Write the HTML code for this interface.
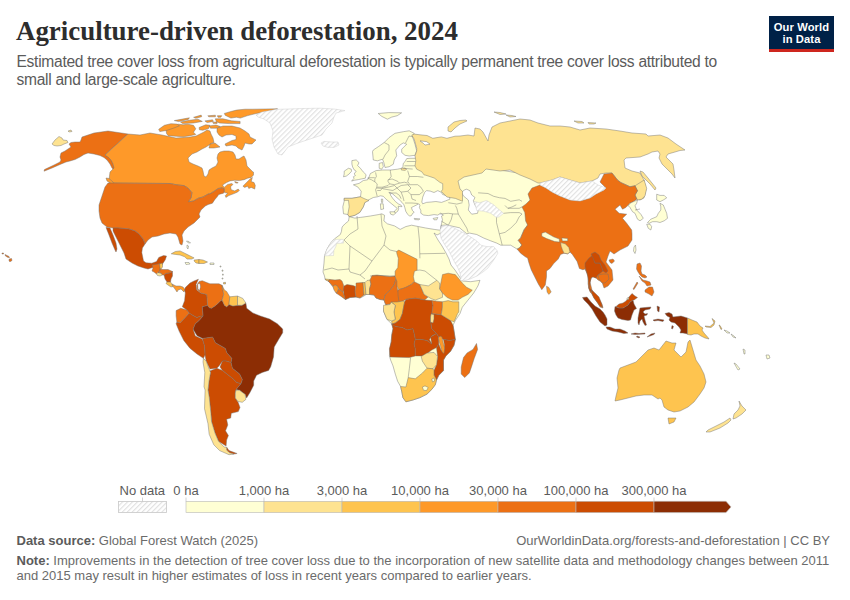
<!DOCTYPE html>
<html><head><meta charset="utf-8">
<style>
html,body{margin:0;padding:0;background:#fff;}
body{width:850px;height:600px;position:relative;overflow:hidden;font-family:"Liberation Sans",sans-serif;}
.t{position:absolute;white-space:nowrap;}
#title{left:16px;top:14.2px;font-family:"Liberation Serif",serif;font-weight:bold;font-size:26.9px;color:#2d2d2d;line-height:34px;}
.sub{left:16.5px;font-size:15.6px;letter-spacing:-0.29px;color:#5b5b5b;line-height:18px;}
.foot{font-size:13px;color:#6b6b6b;line-height:15px;}
.foot b{color:#5b5b5b;}
#logo{position:absolute;left:769px;top:16px;width:65px;height:36px;background:#002147;}
#logo .red{position:absolute;left:0;bottom:0;width:65px;height:3px;background:#ce261e;}
#logo .lt{position:absolute;left:0;width:65px;text-align:center;color:#fff;font-weight:bold;font-size:11.2px;letter-spacing:0.1px;line-height:12px;}
.lg{font-size:12.5px;color:#5b5b5b;}
svg{position:absolute;left:0;top:0;}
</style></head><body>
<div id="title" class="t">Agriculture-driven deforestation, 2024</div>
<div class="t sub" style="top:53px">Estimated tree cover loss from agricultural deforestation is typically permanent tree cover loss attributed to</div>
<div class="t sub" style="top:71px">small and large-scale agriculture.</div>
<div id="logo"><div class="lt" style="top:5px">Our World</div><div class="lt" style="top:17px">in Data</div><div class="red"></div></div>

<svg width="850" height="600" viewBox="0 0 850 600">
<defs>
<pattern id="hatch" patternUnits="userSpaceOnUse" width="3.5" height="3.5" patternTransform="rotate(45)">
<rect width="3.5" height="3.5" fill="#fff"/><line x1="0.6" y1="0" x2="0.6" y2="3.5" stroke="#e0e0e0" stroke-width="1.1"/>
</pattern>
</defs>
<g id="map" stroke="#707070" stroke-width="0.45" stroke-linejoin="round">
<path d="M52 144 L55 140 L59 136.5 L62 138 L63 140 L67 140.5 L68 142.5 L64 144 L61 145.5 L57 146 L54 145.5Z" fill="#fee391"/>
<path d="M68 131 L71 130 L72 131.5 L69 132Z" fill="#fee391"/>
<path d="M82 137 L94 133 L108 131 L128 134 L105 155 L109 157 L112 161 L114 166 L114 170 L112 168 L110 164 L107 160 L104 157.5 L100 155.5 L94 154 L88 153 L84 154.5 L80 157 L75 159.5 L70 161 L66 162 L60 164.5 L52 168 L44 171.2 L44.5 169.5 L53 165.5 L60 162 L61 160 L60 157 L61 153 L65 151 L68 149 L71 147 L70 145.5 L69 144 L71 142.5 L75 142 L80 142 L81 140Z" fill="#ec7014"/>
<path d="M128 134 L140 135 L150 133 L156 134 L162 135 L169 136.5 L176 138 L184 137.5 L190 137 L196 136 L200 134 L204 132 L207 130 L210 131 L211 134 L213 138 L214 142.5 L212 143 L209 145 L206 147 L202 149 L197 152 L192 154 L188 158 L189 162 L193 164 L198 166 L202 168 L203 171 L204 176 L206 177 L208 174 L209 170 L212 168 L216 166 L218 162 L217 158 L218 154 L220 152 L224 151 L229 151 L233 152 L235 155 L236 159 L239 159 L242 157 L244 156 L246 160 L247 166 L250 169 L253 172 L253.5 172.1 L253.5 175 L251.2 177.4 L247.6 178.2 L244.1 179.7 L239.4 180.6 L234.7 180.3 L230 180.9 L226.5 182.6 L222.5 185 L224.1 187.4 L227.6 184.4 L231.8 183.5 L232.9 184.4 L230.6 186.8 L231.2 189.7 L234.7 190.9 L238.2 189.1 L239.4 190.3 L237.6 192.1 L233.5 193.8 L228.8 195.6 L225.9 197.4 L225.3 195.6 L227.6 193.2 L224.7 192.6 L224.1 192.1 L224.1 188.5 L221.8 187.9 L218.2 188.5 L213.8 191.5 L210 193.8 L208.1 194.1 L203.2 196.9 L198.2 198.3 L193.3 201.1 L188.4 201.8 L191.2 197.6 L191.9 192.6 L188.4 188.4 L184.1 185.6 L177 184.9 L170 183.5 L110 183 L109 180 L110 172 L114 168 L113 164 L111 160 L108 157 L105 155Z" fill="#fe9929"/>
<path d="M106 178 L109 178.5 L113 182 L114 184 L111 183.5 L107 181Z" fill="#fe9929"/>
<path d="M242.9 186.2 L246.5 182.6 L250 179.1 L252.4 177.4 L251.2 181.5 L254.1 182.6 L255.3 185.6 L254.7 189.1 L253.5 188.5 L251.2 187.4 L248.8 188.5 L247.6 186.2 L244.7 187.4Z" fill="#fe9929"/>
<path d="M234.7 181.5 L238.2 182.6 L237.1 183.2 L235 182.6Z" fill="#fe9929"/>
<path d="M217 128 L223 126 L232 126 L240 128 L245 131 L249 134 L250 137 L256 140 L252 144 L249 144 L245 143 L244 146 L242 150 L238 148 L236 146 L232 145 L226 146 L225 144 L228 142.5 L232 140.5 L236 139.5 L236 136 L232 134.5 L226 135 L222 137 L219 135 L217 132Z" fill="#fe9929"/>
<path d="M210 144 L215 143 L220 147 L214 148 L209 148Z" fill="#fe9929"/>
<path d="M165.9 128.8 L171.6 125.9 L178.5 124.2 L183.1 124.8 L187.7 124.2 L193.5 125.3 L195.8 128.8 L193.5 132.2 L195.8 134.5 L190 135.7 L183.1 136.8 L176.2 136.3 L168.2 135.7 L166.5 133.4Z" fill="#fe9929"/>
<path d="M158.7 129.3 L164.4 125.3 L170.9 123.7 L177.1 124.1 L179.4 125.8 L173.6 128.1 L166.7 130.4 L159.8 131.6Z" fill="#fe9929"/>
<path d="M174.3 120.6 L189.4 117.8 L188.3 119.4 L178.6 121.6Z" fill="#fe9929"/>
<path d="M180.5 122 L189.3 120.3 L197.9 119.2 L202.3 121.4 L193.5 123 L182.7 123.6Z" fill="#fe9929"/>
<path d="M193.6 117.3 L201.2 115.1 L201.7 116.7 L195.8 118.3Z" fill="#fe9929"/>
<path d="M204.9 120.9 L212.5 119.8 L213.5 121.4 L207.1 122.6Z" fill="#fe9929"/>
<path d="M207.8 115.8 L215.4 115.2 L215.4 116.8 L208.8 116.8Z" fill="#fe9929"/>
<path d="M217.4 115.7 L221.8 115.7 L220.7 117.3 L218 117.3Z" fill="#fe9929"/>
<path d="M212.7 122.4 L217.1 121.8 L217.1 123.4 L213.3 123.4Z" fill="#fe9929"/>
<path d="M215.3 118.8 L222.9 118.8 L231.5 120.8 L240.1 121.4 L240.1 123.6 L229.3 123.6 L219.5 123 L216.3 121.4Z" fill="#fe9929"/>
<path d="M199.1 127.5 L205.7 124.8 L209.9 125.3 L208.6 128.6 L202.8 130.3 L199.4 129.8Z" fill="#fe9929"/>
<path d="M209.3 125.9 L216 125 L220.4 126.6 L216.2 128.2 L210.5 128.2Z" fill="#fe9929"/>
<path d="M224.3 113.4 L230.9 111.5 L236.5 110.1 L245 109.2 L252 109.2 L277.6 108.8 L267.6 111.3 L256.3 113.5 L247.8 115.6 L240.3 118.1 L236.5 117.2 L230.9 118.1 L227.1 116.2 L225.2 115.3Z" fill="#fe9929"/>
<path d="M256 115 L262 112 L276 109.4 L300 108.6 L320 108.2 L334 109 L345 110.6 L336 113 L334 117 L332 123 L326 129 L322 135 L310 139 L298 143 L288 147 L282 155 L278 154 L274 147 L272 139 L273 131 L270 123 L264 119 L258 117Z" fill="url(#hatch)" stroke="#ccc"/>
<path d="M321 143 L324 141.4 L332 142 L338 142 L339 145 L334 147.4 L328 147.4 L323 146Z" fill="url(#hatch)" stroke="#ccc"/>
<path d="M110 183 L170 183.5 L177 184.9 L184.1 185.6 L188.4 188.4 L191.9 192.6 L191.2 197.6 L188.4 201.8 L193.3 201.1 L198.2 198.3 L203.2 196.9 L208.1 194.1 L210 193.8 L213.8 191.5 L218.2 188.5 L221.8 187.9 L224.1 188.5 L224.1 192.1 L223.5 193.2 L218.8 194.4 L216.6 197.6 L214.7 199.7 L212.4 203.2 L208.1 204.6 L205.3 206 L201 210 L199 214 L200 217 L194 223 L188 227 L184 231 L182 235 L183 241 L182 245 L180 244 L178 237 L176 234 L170 233 L164 234 L158 236 L152 237 L148 240 L145 244 L143 239 L139 234 L135 231 L129 229 L125 228.6 L118 228 L113 228 L107 227 L102 223 L100 218 L99 211 L99 205 L101 199 L103 193 L105 187 L108 183Z" fill="#ec7014"/>
<path d="M113 228 L118 228 L125 228.6 L129 229 L135 231 L139 234 L143 239 L145 244 L142.4 248 L141.8 252.6 L143.5 260.9 L146 262.8 L151.8 263.2 L156.5 261.5 L158.8 257.4 L163.5 255.6 L166.5 256 L165.3 259.7 L163 263.2 L161.8 265.6 L156 265 L154 267 L151 268 L148 269 L144 268 L138 266 L132 263 L126 259 L124 253 L120 245 L116 237 L113 231Z" fill="#cc4c02"/>
<path d="M106 227.4 L110 228 L113 235 L116 243 L117 249 L116 252 L115 250 L112 243 L109 235Z" fill="#cc4c02"/>
<path d="M9.2 259 L11.5 258.5 L12 260.5 L10 261.8 L9 261Z" fill="#ec7014"/>
<path d="M5 254.5 L7 255.5 L9 256.5 L9.5 257.5 L8 257.5 L5.5 256Z" fill="#ec7014"/>
<path d="M2 253 L3.5 253 L3.5 254 L2 254Z" fill="#ec7014"/>
<path d="M152 265 L155 264.5 L158 264 L160 263.5 L160.5 268 L160 269 L160 271 L158 272.5 L156.5 274 L154 272 L152 271 L153 268Z" fill="#ec7014"/>
<path d="M159.5 264 L162.5 263 L162.5 267 L161 269 L160.2 269Z" fill="#fec44f"/>
<path d="M156.5 274 L158 272.5 L161 273 L162.5 275 L160 276 L157.5 275.5Z" fill="#fee391"/>
<path d="M160 269 L163 269.5 L168 269.5 L172.5 271.5 L170 273 L166 273.5 L164 275 L162.5 275 L161 273 L158 272.5 L160 271Z" fill="#ec7014"/>
<path d="M164 275 L166 273.5 L170 273 L172.5 271.5 L172.5 276 L171 279 L170.5 282 L167 282 L165 279Z" fill="#cc4c02"/>
<path d="M167 282 L170.5 282 L172 284 L173 286.5 L171 287 L168 285 L166 283.5Z" fill="#fec44f"/>
<path d="M172 284 L176 286 L180 286 L183 287 L185 289.5 L184 292 L181 289 L178 290 L177 292 L175 289 L173 286.5Z" fill="#fe9929"/>
<path d="M171.2 253.8 L175.3 251.5 L180 250.9 L184.7 253.2 L189.4 255.6 L194.1 257.9 L191.8 259.1 L187.1 259.1 L184.7 256.8 L180 255 L175.3 254.4Z" fill="#fec44f"/>
<path d="M194 260 L199 259.5 L199 263.5 L196 263 L194.5 261.5Z" fill="#fec44f"/>
<path d="M199 259.5 L203 260 L207.5 262 L204 263.5 L199 263.5Z" fill="#fec44f"/>
<path d="M185 262.5 L189 262.5 L190 264 L186 264.5Z" fill="#ffffd4"/>
<path d="M210 263 L214 263 L214 264.5 L210 264.5Z" fill="#ffffd4"/>
<path d="M187 245 L188.5 246 L188 249 L187 248Z" fill="#ffffd4"/>
<path d="M186.5 241 L189 241.5 L190.5 243 L188 242.8Z" fill="#ffffd4"/>
<path d="M220 266 L221 266 L221 267 L220 267Z" fill="#ffffd4"/>
<path d="M222 270 L223 270 L223 271.2 L222 271.2Z" fill="#ffffd4"/>
<path d="M222.5 274 L223.3 274 L223.3 275.2 L222.5 275.2Z" fill="#ffffd4"/>
<path d="M222 278 L223 278 L223 279 L222 279Z" fill="#ffffd4"/>
<path d="M223.5 282.5 L225.5 282.3 L225.5 284 L223.5 284Z" fill="#fec44f"/>
<path d="M245.9 303 L246.7 308.3 L252.8 312.9 L260.4 316 L269.6 319 L277.3 323.7 L282.7 329 L282.7 332.8 L279.2 338.5 L274.2 347 L273.5 356.9 L270.7 366.8 L268.6 370.4 L262.2 372.5 L256.5 375.3 L253.7 381 L253.7 385.3 L250.1 392.3 L246.6 398 L245.2 394.5 L239.5 390.2 L236 389.5 L240.9 383.8 L242.3 379.6 L239.5 373.9 L232.4 368.3 L231 362.6 L231.7 358.3 L226.8 352.7 L225.3 348.4 L215.4 342.8 L212.6 337.1 L202.7 338.5 L197 335.7 L193 329 L195.3 323.7 L199 320.6 L203 316 L202.2 306.8 L207.6 305.3 L209.1 307.6 L211.4 308.3 L216 305.3 L220.6 300.7 L222.1 299.9 L224.4 305.3 L226.7 306.8 L229 304.5 L232.9 306 L237.5 305.3 L242 305.3Z" fill="#8c2d04"/>
<path d="M202.7 338.5 L212.6 337.1 L215.4 342.8 L225.3 348.4 L226.8 352.7 L231.7 358.3 L231 362.6 L226 361 L222.5 361 L219 366 L216.8 368.3 L210 369 L206.2 361.2 L205 355 L204.5 346 L203 341Z" fill="#cc4c02"/>
<path d="M222.5 361 L226 361 L231 362.6 L232.4 368.3 L239.5 373.9 L242.3 379.6 L240.9 383.8 L236.7 382.4 L232.4 378.2 L226.8 373.9 L222.5 370.4 L220 367Z" fill="#cc4c02"/>
<path d="M209.8 371 L216.8 368.3 L222.5 370.4 L226.8 373.9 L232.4 378.2 L236.7 382.4 L240.9 383.8 L236 389.5 L235.3 393 L235.3 398 L238.1 402.3 L240 407.5 L238.3 411.6 L231.3 413.3 L230.7 418 L226.6 419.2 L227.8 425 L225.5 430.8 L228.4 435.5 L226.6 440.1 L226.1 446 L218.5 441.3 L215 433.1 L211.5 421.5 L210.9 413.3 L209.2 397 L208 390 L209 381 L210.5 372.5Z" fill="#cc4c02"/>
<path d="M226.6 447.1 L229 450.6 L237.1 453.5 L233.6 454.1 L229 452.5 L226.6 450Z" fill="#cc4c02"/>
<path d="M203.4 358.3 L206.2 361.2 L208.3 366.8 L210.5 372.5 L209 381 L208 390 L209.2 397 L210.9 413.3 L211.5 421.5 L215 433.1 L218.5 441.3 L224.3 447.1 L226.6 447.1 L226.6 450 L229 452.5 L233.6 454.1 L229 454.7 L219.6 450.6 L213.8 444.8 L209.2 434.3 L208 423.8 L204.5 408.7 L205.1 390 L204 386.7 L204.8 372.5 L203 362Z" fill="#fee391"/>
<path d="M176.9 322.1 L180 322.9 L183.8 319 L189.2 312.9 L191.5 314.5 L196.8 317.5 L200.7 316 L203 316 L199 320.6 L195.3 323.7 L193 329 L195.3 336 L202.2 339 L203 341 L204.5 346 L205 355 L203.4 358.3 L197 354 L189.9 348.2 L183.8 340.5 L179.2 331.3 L176.1 323.7Z" fill="#cc4c02"/>
<path d="M176.1 310.6 L180.7 308.3 L186.9 309.9 L189.2 312.9 L183.8 319 L180 322.9 L176.9 322.1 L176.1 316Z" fill="#ec7014"/>
<path d="M198.4 279.2 L196 284.6 L196.8 290 L200.7 293 L206.8 294.5 L207.6 305.3 L202.2 306.8 L203 316 L200.7 316 L196.8 317.5 L191.5 314.5 L189.2 312.9 L186.9 309.9 L182.3 306.8 L184.6 300.7 L185.3 293 L184.6 290 L185.3 287.6 L190 283 L194 281Z" fill="#cc4c02"/>
<path d="M196.8 285.3 L199.1 281.5 L202.2 280.7 L209.9 283.8 L219 283.8 L222.1 285.3 L223.7 294.5 L222.1 299.9 L220.6 300.7 L216 305.3 L211.4 308.3 L209.1 307.6 L207.6 305.3 L206.8 294.5 L200.7 293 L197.6 290Z" fill="#ec7014"/>
<path d="M222.1 285.3 L224.4 290 L226.7 291.5 L229.8 296.8 L229 304.5 L226.7 306.8 L224.4 305.3 L222.1 299.9 L223.7 294.5Z" fill="#fe9929"/>
<path d="M229.8 296.8 L237.5 296 L237.5 305.3 L232.9 306 L229 304.5Z" fill="#fec44f"/>
<path d="M237.5 296 L242.8 298.4 L245.9 303 L242 305.3 L237.5 305.3Z" fill="#fee391"/>
<path d="M197.5 284 L200 283.5 L200.5 287 L199.5 290.5 L198 289 L197.8 286Z" fill="#fff"/>
<path d="M236 390.2 L239.5 390.2 L245.2 394.5 L245.9 399.4 L242.3 402.3 L238.1 401.5 L235.3 398 L235.3 393Z" fill="#fee391"/>
<path d="M344.2 198.3 L352 198.3 L360.5 196.8 L361.2 191.2 L357.7 186.9 L353.4 184.8 L359.1 183.4 L363.3 180.5 L367.6 179.8 L369 177 L370.4 173.5 L376.1 170.6 L382.5 170 L390.8 170 L397.5 169.2 L401.7 168.3 L402.9 166.7 L403.3 163.3 L405 161.7 L406.7 158.6 L410 158.3 L415.5 158.3 L420 150 L460 165 L500 170 L530 175 L545 185 L540 200 L530 210 L528 222 L527.6 225 L524.1 229.7 L520.6 237.9 L518.2 240.3 L521.8 245 L519.4 247.9 L517.1 249.1 L510.7 245.2 L500.8 245.2 L496.5 243 L490.8 240.9 L483.8 238.1 L476.7 234.5 L469.6 233.1 L466.8 233.8 L459.5 227.8 L446.8 225 L441.3 225.3 L440.5 229 L441.5 223.6 L442.5 219.8 L441.5 216.1 L443.4 215.1 L440.6 213.2 L437.8 215.1 L434 214.6 L428.4 215.6 L423.6 215.1 L420.8 213.2 L420.8 210.4 L419.4 207.6 L419.9 205.2 L418.9 203.8 L416.1 205.2 L413.3 206.6 L411.4 207.6 L412.4 210.4 L414.2 212.3 L412.8 213.2 L411.4 215.6 L409.5 216.1 L407.6 214.2 L405.8 211.4 L404.8 207.6 L403.9 204.8 L402 202.4 L399.2 199.6 L395.4 196.3 L392.6 193.9 L389.8 192.5 L388.8 192.5 L390.2 193.5 L390.7 195.4 L392.6 198.2 L395.4 201.5 L398.2 203.8 L401.1 205.2 L402 206.6 L400.1 206.6 L398.2 206.2 L398.7 208.5 L398 210.9 L396.4 212.3 L394.5 213.5 L394.5 211 L397.3 208.5 L394.5 206.2 L391.6 203.8 L388.8 201.5 L386 199.1 L383.2 196.3 L380.4 195.8 L377.5 196.8 L373.3 197.5 L369 199.7 L364.8 202.5 L363.3 206.8 L359.8 212.4 L354.8 215.3 L349.2 216.7 L347.8 214.5 L343.5 213.8 L342.8 206.8 L344.2 201.1Z" fill="#ffffd4"/>
<path d="M344.2 198.3 L352 198.3 L360.5 196.8 L364 198.5 L369 200.5 L364.8 202.5 L363.3 206.8 L359.8 212.4 L354.8 215.3 L349.2 216.7 L347.8 214.5 L349.2 206.8 L348.5 200.4 L344.2 200.4Z" fill="#fee391"/>
<path d="M389.8 211.8 L394.5 211.8 L395.4 213.2 L393.5 215.1 L390.7 214.2Z" fill="#ffffd4"/>
<path d="M380.4 203.8 L383.2 203.8 L383.6 209 L380.8 209.5Z" fill="#ffffd4"/>
<path d="M381.3 199.1 L382.7 199.1 L382.7 202.4 L381.5 202.4Z" fill="#ffffd4"/>
<path d="M414.2 218.4 L419.9 218.9 L418.9 219.8 L414.7 219.6Z" fill="#ffffd4"/>
<path d="M433.1 218.4 L437.8 217.5 L436.8 219.8 L434 219.8Z" fill="#ffffd4"/>
<path d="M372.5 151.7 L373.3 160 L377.5 160.8 L382.5 159.2 L383.8 162.5 L385 167.5 L389.2 166.7 L393.3 164.2 L394.2 160 L396.7 155.8 L395.8 150 L400 145 L403.3 142.9 L406.7 144.2 L401.7 149.2 L401.7 152.5 L405 155.3 L409.2 156 L415 155.3 L416.7 150.8 L415 144.2 L412.5 136.7 L414.2 133.3 L409.2 130.8 L403.3 131.7 L395 133.3 L389.2 137.5 L384.2 142.5 L378.3 146.7 L373.3 150Z" fill="#ffffd4"/>
<path d="M379.2 163.3 L382.5 162.5 L383.3 166.7 L381.7 169.2 L379.2 168.3Z" fill="#ffffd4"/>
<path d="M351.9 160.6 L356.2 159.9 L359 162.7 L357.6 165.5 L360.4 168.3 L363.2 171.9 L366.1 174.7 L365.3 178.2 L361.8 178.9 L358.3 179.6 L354.1 180.3 L351.6 181.1 L354.1 178.2 L353.3 176.8 L355.5 175.4 L354.1 174 L356.2 171.2 L354.1 169.8 L352.6 166.9 L351.9 164.1Z" fill="#ffffd4"/>
<path d="M344.2 171.2 L348.4 168.3 L351.2 169.1 L351.6 171.2 L349.1 174 L346.3 176.1 L343.5 176.8 L344.2 174Z" fill="#ffffd4"/>
<path d="M378.2 113.5 L388.8 112.6 L401.6 112.8 L397.3 115.7 L391.7 117.1 L387.4 119.2 L381.8 116.4Z" fill="#ffffd4"/>
<path d="M421.8 202 L422.7 197.2 L424.6 192.5 L426.5 190.6 L430.2 191.1 L434 192.5 L436 191.5 L437.8 190.6 L441.5 192.5 L442.5 194.4 L445.3 195.4 L449.1 196.3 L450 199.1 L445.3 201 L441.5 202.4 L435.9 201.5 L431.2 202 L426.5 202.4 L422.7 203.8Z" fill="#fff"/>
<path d="M464.2 190 L461.7 192.5 L463.3 195.8 L468.3 200 L469.2 205 L468.3 210 L471.7 214.2 L477.5 213.3 L478.3 210 L475 205 L473.3 200.8 L475 197.5 L471.7 195 L470 190.8 L466.7 189.2Z" fill="#fff"/>
<path d="M473.8 201.3 L479.5 202.7 L486.6 200.5 L493.7 204.8 L499.3 209.8 L503.6 213.3 L499.3 216.8 L496.5 217.5 L490.8 213.3 L483.8 211.2 L476.7 210.5 L475.5 206Z" fill="url(#hatch)" stroke="#ccc"/>
<path d="M414.3 134.1 L420 134.8 L427.1 135.5 L432.8 138.3 L437 137.6 L441.3 136.9 L446.9 138.3 L455 136.2 L460 136 L468 135 L474 136 L475 128 L480 129 L483 132 L488 141 L489 135 L492 127 L500 123 L510 121 L520 119 L530 120 L538 123 L550 126 L560 126 L570 127 L580 130 L590 128 L606 129 L620 131 L632 133 L646 134 L648 136 L660 135 L668 138 L676 144 L685 150 L680 150.5 L675 152 L668 154 L666 157 L669 160 L673 164 L674 170 L675 178 L672 174 L668 170 L662 164 L659 158 L660 154 L658 151 L652 152 L648 154 L640 157 L626 158 L624 160 L625 168 L632 171 L640 173 L644 180 L646 190 L644 198 L640 200 L636.7 199.2 L635 195 L637.5 190.8 L635 185.8 L630 186.7 L620.8 182.5 L617.5 180 L612 173 L606 173 L600 174 L598 178 L592 181 L580 183 L570 180 L560 177 L552 180 L540 183 L538 183 L530 179 L520 175 L510 170 L500 171 L486 169 L482 173 L464 177 L458 181 L460 189 L462.5 191.3 L462.5 201.3 L455.4 198.4 L446.9 197 L441.3 191.3 L442.7 189.3 L442.7 183.7 L439.8 182.3 L434.2 178 L425.7 175.2 L424.2 175 L421.7 171.7 L416.7 169.2 L415 165.8 L415.8 160.8 L415 155.8 L416.7 150.8 L416.7 148.3 L414.2 139.2 L411.7 135Z" fill="#fee391"/>
<path d="M420 140.8 L426.7 141.7 L430 144.2 L425 145 L423.3 143.3Z" fill="#fff"/>
<path d="M401.3 168.3 L405 168 L406.7 169.2 L405 170.4 L401.3 170Z" fill="#fee391"/>
<path d="M448 127 L454 122 L460 120.5 L466 120 L467 121 L460 124 L455 128 L451 132 L448 131Z" fill="#fee391"/>
<path d="M494 112 L500 112.5 L506 114 L500 114.5Z" fill="#fee391"/>
<path d="M506 115 L512 115.5 L516 116.5 L510 117Z" fill="#fee391"/>
<path d="M574 121 L582 121.5 L584 123 L578 123Z" fill="#fee391"/>
<path d="M588 122.5 L596 123 L594 124 L589 124Z" fill="#fee391"/>
<path d="M640 171 L643 172 L648 178 L652 183 L656 188 L655 190 L650 184 L645 179 L642 176Z" fill="#fee391"/>
<path d="M349.2 216.7 L354.8 218.1 L360.5 217.4 L370.4 216 L378.9 214.5 L381.8 213.8 L384.6 215.3 L383.9 220.9 L387.4 223.8 L394.5 225.9 L400.2 229.4 L405.8 226.6 L411.5 225.2 L418.6 226.6 L425.7 228 L434.2 229.4 L439.1 230.1 L441 230 L441 233 L437 235 L434 233 L438 240 L442 246 L446 253 L449 259 L451 265 L455 270 L459 276 L461 279 L462.5 281 L470.8 281.7 L480 280.3 L477.9 286 L473.7 293 L468 300.1 L462.3 307.2 L460 313.5 L455.3 320.6 L453 325.3 L454 331 L455.3 339.4 L454 345.3 L450.6 351.2 L445.9 355.9 L443.5 360 L443.5 370.6 L438.8 375.3 L436.5 380 L435.3 384.7 L431.8 389.4 L427 394.1 L420 397.6 L412.9 400 L405.9 401.8 L402.9 397.6 L401.8 391.8 L400.6 386.5 L397.6 381.2 L395.3 374.1 L393 365.9 L390.6 360 L389.4 355.9 L390 348.8 L391.2 341.8 L391.8 334.7 L393 328.8 L391.8 324 L387 319.4 L383.5 311.2 L384 308 L386 305 L385 303 L384 300 L380 299.5 L376 298 L374 295 L370 294.5 L366 294.5 L364 296 L360 298 L356 297 L350 297.5 L345.5 299.5 L340 295 L336 291 L333 287 L330 283 L328 281 L325 279 L324.5 276 L323 272 L324 263 L324.5 255.9 L326.8 249.5 L329.8 244.3 L332 241.3 L334.3 239 L340.3 234.5 L341.4 231.5 L342.1 227 L344.8 224 L348.5 221Z" fill="#ffffd4"/>
<path d="M334.3 239.4 L343.3 239.4 L343.6 243.1 L336.5 243.5 L335.8 246.5 L333.9 250.3 L333.5 255.5 L324.5 255.9 L326.8 249.5 L329.8 244.3 L332 241.3Z" fill="url(#hatch)" stroke="#ccc"/>
<path d="M325 279 L330 279.5 L330 281 L328 281 L325.5 280Z" fill="#fec44f"/>
<path d="M328 281 L330 279.5 L335 280 L340 279.5 L342 281 L343.5 285 L344 289.5 L343 292 L341 290.5 L339 289 L337.5 286.5 L335 285 L333 286.5 L330 283Z" fill="#ec7014"/>
<path d="M333 286.5 L335 285 L337.5 286 L338.5 289 L337.5 292 L336 293 L334 290Z" fill="#fe9929"/>
<path d="M336 293 L337.5 292 L338.5 289 L341 290.5 L343 292 L344 295 L345.5 299.5 L342 297 L339 295Z" fill="#ec7014"/>
<path d="M344 286 L347 284.5 L353 285.5 L355.5 286.5 L355 291 L356 297 L350 297.5 L345.5 299.5 L344 295 L343.5 290Z" fill="#cc4c02"/>
<path d="M356 283 L363 282.5 L363.5 288 L364 295 L360 298 L356 297 L355 291 L356 287Z" fill="#ec7014"/>
<path d="M363 282.5 L365 282.5 L365.5 289 L366 294.5 L364 295 L363.5 288Z" fill="#fec44f"/>
<path d="M365 282.5 L367 280.5 L370 280 L371 284 L369.5 289 L369.5 294.5 L366 294.5 L365.5 289Z" fill="#fee391"/>
<path d="M370 280 L372 275.5 L377 275 L384 276 L390 276.5 L395 276 L396 279 L394 285 L391 289 L388 292 L385 295 L384 300 L380 299.5 L376 298 L374 295 L369.5 294.5 L369.5 289 L371 284Z" fill="#ec7014"/>
<path d="M396 279 L398 281 L397 287 L398 291 L399 295 L400 302 L396 303 L390 304 L386 305 L385 303 L384 300 L385 295 L388 292 L391 289 L394 285Z" fill="#ec7014"/>
<path d="M396.5 251.5 L398.8 250.1 L417.1 259.3 L417.1 270.3 L414.4 271.2 L413.4 276.7 L414.4 281.3 L410.7 285 L407 286.8 L403.3 288.6 L398.8 289.5 L396.9 285.9 L396.9 281.3 L395.1 276.7 L395.1 271.2 L397.8 267.5 L398.3 258.3 L396.9 253.8Z" fill="#fe9929"/>
<path d="M398 290 L405.7 287.3 L411.3 284.5 L414.2 281.7 L419.8 284.5 L424.1 294.4 L428 297 L424.7 300 L415.3 298.2 L405.9 299.4 L403 301 L399 302 L398 295Z" fill="#ec7014"/>
<path d="M419.8 284.5 L428.3 285.9 L436.8 280.3 L439.7 283.1 L439.7 288.8 L442.5 293 L442.5 297.3 L435.4 300.1 L431.2 298.7 L424.1 294.4Z" fill="#fee391"/>
<path d="M442.5 274.6 L448.2 273.2 L455.3 274.6 L459.5 279.5 L462.3 283.1 L466.6 287.3 L472.3 290.2 L468 294.4 L462.3 297.3 L458.1 300.1 L452.4 300.1 L446.8 297.3 L442.5 293 L439.7 288.8 L441.1 281.7Z" fill="#fe9929"/>
<path d="M391 302 L397 302 L403 301 L404.7 301.8 L403.5 307.6 L402.4 313.5 L400 319.4 L395.3 323 L391.8 324 L391.8 321 L395.3 319.4 L394 312 L395.3 305.3Z" fill="#fec44f"/>
<path d="M383.5 305.3 L386 305 L390 304.5 L391 302 L395.3 305.3 L394 312 L395.3 319.4 L391.8 321 L387 319.4 L383.5 311.2Z" fill="#fee391"/>
<path d="M405.9 299.4 L415.3 298.2 L424.7 300 L431.8 300.6 L433 305.3 L431.8 313.5 L430.6 320.6 L431.8 328.8 L436.5 333.5 L431.8 335.9 L429.4 339.4 L431.8 344.1 L427 340.6 L421.2 339.4 L415.3 339.4 L414.1 333.5 L412.9 328.8 L407 330 L402.4 327.6 L395.3 326.5 L393 325.3 L391.8 324 L395.3 323 L400 319.4 L402.4 313.5 L403.5 307.6 L404.7 301.8Z" fill="#cc4c02"/>
<path d="M391.8 324 L395.3 326.5 L402.4 327.6 L407 330 L412.9 328.8 L414.1 333.5 L415.3 339.4 L414.1 344.1 L415.3 348.8 L415.3 355.9 L409.4 357.6 L390 357 L389.4 348.8 L391.2 341.8 L391.8 334.7 L393 328.8Z" fill="#cc4c02"/>
<path d="M415.3 339.4 L421.2 339.4 L427 340.6 L431.8 344.1 L430.6 337 L436.5 333.5 L438.8 337 L438.8 344 L436.5 347.6 L431.8 350 L427 353.5 L422.4 355.9 L415.3 355.9 L415.3 348.8 L414.1 344.1Z" fill="#cc4c02"/>
<path d="M431.8 313.5 L441.2 314.7 L450.6 320.6 L453 325.3 L454 331 L455.3 339.4 L449.4 340.6 L443.5 339.4 L438.8 337 L436.5 333.5 L431.8 328.8 L430.6 320.6Z" fill="#cc4c02"/>
<path d="M443.5 339.4 L449.4 340.6 L455.3 339.4 L454 345.3 L450.6 351.2 L445.9 355.9 L443.5 360 L443.5 370.6 L438.8 375.3 L436.5 380 L434 375.3 L434 370.6 L436.5 364.7 L437.6 356.5 L436.5 347.6 L438.8 344 L441 350 L443.5 352 L444.5 345Z" fill="#cc4c02"/>
<path d="M440 336 L442 337 L443 342 L444.7 348 L444 353.5 L442 352 L440.5 346 L439 341 L438.2 338Z" fill="#fe9929"/>
<path d="M431.8 300.6 L436.5 301.2 L442.4 301.8 L442.4 307.6 L441.2 314.7 L436.5 314.1 L431.8 313.5 L433 305.3Z" fill="#ec7014"/>
<path d="M442.4 301.8 L448.2 300.6 L452.9 301.8 L458.8 301.8 L458.8 312 L457.6 313.5 L454.1 321.8 L450.6 320.6 L441.2 314.7 L442.4 307.6Z" fill="#fec44f"/>
<path d="M431 314 L434 314.5 L434 319 L433 323 L430.5 322 L430.5 317Z" fill="#fee391"/>
<path d="M421.2 356.5 L427 353 L434 352.4 L437.6 356.5 L436.5 364.7 L433 368.8 L427 368.2 L422.4 361.2Z" fill="#fee391"/>
<path d="M408.2 377.6 L415.3 378.8 L422.4 373 L427 368.2 L433 368.8 L434 370.6 L434 375.3 L436.5 380 L435.3 384.7 L431.8 389.4 L427 394.1 L420 397.6 L412.9 400 L405.9 401.8 L402.9 397.6 L401.8 391.8 L400.6 386.5 L405.9 387Z" fill="#fec44f"/>
<path d="M422.4 387 L425 385.9 L428.2 387.5 L426.5 390.6 L423.5 390.2Z" fill="#ffffd4"/>
<path d="M431.8 379 L434 378 L434.7 381 L432.5 381.8Z" fill="#ffffd4"/>
<path d="M476.5 343.5 L477.6 349.4 L474.1 358.8 L471.8 365.9 L469.4 372.9 L464.7 377.6 L461.2 374.1 L461.2 367 L463.5 357.6 L467.1 352.9 L473 349.4Z" fill="#ec7014"/>
<path d="M441 227 L448 225 L456 229 L462 232 L468.2 235.3 L476.7 240.9 L480.9 245.2 L486.6 246.6 L493.7 246.6 L497.2 250.8 L497.8 253.3 L493.5 260.4 L490 265 L488 268 L483 272 L477 276 L470 279 L463 281 L460 280 L461 278 L460 273 L458 268 L455 263 L452 257 L449 251 L445 245 L441 238 L440 231Z" fill="url(#hatch)" stroke="#ccc"/>
<path d="M635 185.8 L644.2 180 L646.7 188.3 L645 195.8 L641.7 199.2 L637.5 200 L635 195 L637.5 190.8Z" fill="#fee391"/>
<path d="M532 188 L540 185 L546 188 L552 192 L560 196 L570 200 L580 201 L590 198 L596 194 L604 190 L606 188 L600 182 L604 174 L612 173 L617.5 180 L620.8 182.5 L630 186.7 L635 185.8 L637.5 190.8 L635 195 L636.7 199.2 L633.3 201.7 L630 203.3 L625.8 207.5 L622.5 209.2 L620 205 L615 209.2 L619.2 213.3 L626.7 214.2 L622.5 218.3 L626.7 223.3 L631.7 230 L632 234 L632 240 L628 246 L620 250 L614 254 L610 251 L608 256 L606 262 L612 270 L613 280 L608 286 L604 288 L602 282 L598 280 L596 278 L592 276 L590 282 L592 290 L595 294 L598 298 L602 304 L603 308 L600 307 L597 302 L594 298 L592 294 L590 292 L588 284 L588 276 L585 269 L582.9 269.7 L579.4 268.5 L577.1 261.5 L572.4 254.4 L570 252.1 L567.6 253.8 L564.1 253.2 L560.6 254.4 L558.2 259.1 L553.5 263.8 L550 268.5 L546.5 270.9 L546.5 276.8 L545.3 285 L541.8 289.7 L538.2 283.8 L534.7 276.8 L531.2 269.7 L528.8 262.6 L527.6 257.9 L525.3 256.8 L520.6 253.2 L517.1 249.1 L519.4 247.9 L521.8 245 L518.2 240.3 L520.6 237.9 L524.1 229.7 L527.6 225 L525.6 221 L524.8 212.6 L522 206.9 L526 204 L530 200 L528 194Z" fill="#ec7014"/>
<path d="M585 263 L589 258 L593 255 L595 263 L600 263 L602 268 L603 271 L598 275 L596 278 L593 277 L591 278 L590 283 L589.5 288 L591.5 290 L592 292 L590 291 L588.5 288 L589 283 L588 278 L587 273 L585 267Z" fill="#cc4c02"/>
<path d="M591 254 L595 252 L599 255 L601 260 L605 265 L608 271 L606 273 L603 271 L602 268 L600 263 L595 263 L593 258Z" fill="#cc4c02"/>
<path d="M598 275 L603 274 L608 274 L609 279 L605 283 L602 283 L599 279Z" fill="#ec7014"/>
<path d="M541.8 233.2 L545.3 232.1 L553.5 236.8 L559.4 239.1 L559.4 242.1 L554.7 241.5 L546.5 238.5 L541.8 236.2Z" fill="#ffffd4"/>
<path d="M561.8 237.9 L567.6 238.5 L567.6 240.9 L562.4 240.9Z" fill="#ffffd4"/>
<path d="M560.6 242.6 L565.3 243.8 L568.8 247.4 L570 252.1 L567.6 253.8 L564.1 253.2 L562.4 249.7 L561.2 246.2Z" fill="#fee391"/>
<path d="M546.5 286.2 L548.8 287.4 L551.2 292.1 L548.8 294.4 L547.1 292.1Z" fill="#fe9929"/>
<path d="M540 183 L552 180 L560 177 L570 180 L580 183 L592 181 L598 185 L606 188 L604 190 L596 194 L590 198 L580 201 L570 200 L560 196 L552 192 L546 188 L540 185Z" fill="url(#hatch)" stroke="#ccc"/>
<path d="M637.5 200 L636.7 203.3 L635 205.8 L636.7 210 L640.8 214.2 L643.3 218.3 L640 220.8 L637.5 219.2 L635 213.3 L632.5 211.7 L630 207.5 L628.3 205.8 L630 203.3 L633.3 201.7Z" fill="#ffffd4"/>
<path d="M656.7 194.2 L660 195.4 L664.2 195.4 L666.7 197.9 L663.3 200 L660 201.7 L656.7 200Z" fill="#ffffd4"/>
<path d="M660 203.3 L663.3 205 L665 209.2 L666.7 213.3 L667.5 218.3 L664.2 220.8 L660 222.5 L656.7 221.7 L652.5 221.7 L649.2 223.3 L647.5 222.5 L650.8 219.2 L656.7 216.7 L658.3 213.3 L660.8 210 L660.8 206.7Z" fill="#ffffd4"/>
<path d="M646.7 224.2 L650 224.2 L651.7 226.7 L650.8 230 L648.3 228.3Z" fill="#ffffd4"/>
<path d="M634 247 L635.5 245 L636 250 L635 253.5 L633.5 251Z" fill="#ffffd4"/>
<path d="M609 260 L613 259 L614.5 261 L612 263.5 L610 262.5Z" fill="#ec7014"/>
<path d="M637 264 L640 263 L641.5 266 L641 271 L642 274 L645 275 L647 277 L645 278 L642 277 L640 275 L638 272 L636.5 269Z" fill="#ec7014"/>
<path d="M639 276 L643 280 L647 281 L650 282 L651 285 L647 286 L645 283 L642 281Z" fill="#ec7014"/>
<path d="M645 290 L649 287 L652.5 287 L654 292 L652 296 L649 294 L645 292Z" fill="#ec7014"/>
<path d="M633 289 L637 282 L638 283 L634 289.5Z" fill="#ec7014"/>
<path d="M591.5 290 L596 294 L599 297 L601 302 L602.5 307 L600 306 L597 302 L594 298 L592 294Z" fill="#cc4c02"/>
<path d="M582.5 297.5 L587 297 L591 302 L595 306 L600 309 L603 312 L605 315 L607 319 L607 325 L605 326 L600 322 L596 316 L592 309 L588 304 L584 300Z" fill="#8c2d04"/>
<path d="M606 327 L610 327 L615 329 L620 329 L625 331 L628 333 L624 333.5 L618 332 L612 331 L607 329Z" fill="#8c2d04"/>
<path d="M631 334 L635 333 L639 333.5 L645 333 L645 334 L635 334.5Z" fill="#8c2d04"/>
<path d="M637 336 L640 337 L639 338 L636.5 337Z" fill="#8c2d04"/>
<path d="M647 337 L651 334 L655 333 L654 334.5 L650 336Z" fill="#8c2d04"/>
<path d="M615 306.5 L619 308 L623 308 L628 305 L630 302 L633 300 L634 304 L636.5 308.5 L634 310 L632 315 L630.5 320 L628 320.5 L625 320 L622 319.5 L618 318 L616 315 L614.5 311Z" fill="#8c2d04"/>
<path d="M616 306.5 L619 304 L623 303 L626 301 L629 297 L632 293.5 L635 296 L637.5 297.5 L634 300 L633 300 L630 302 L628 305 L623 308 L619 308Z" fill="#cc4c02"/>
<path d="M627 298 L629 297.5 L628.5 299.5 L627 299.5Z" fill="#ffffd4"/>
<path d="M640 308 L645 307.5 L651 307 L650 309 L645 310 L643 312 L645 314 L647.5 313.5 L647 315 L644 316 L645 320 L646.5 325 L645 325.5 L643 322 L642 319 L640 321 L639 325 L638 323 L638 318 L639 313Z" fill="#8c2d04"/>
<path d="M657 306 L659.5 307 L659 312 L657.5 311Z" fill="#8c2d04"/>
<path d="M653 320 L658 319 L664 320 L663 321.5 L658 320.5 L654 321Z" fill="#8c2d04"/>
<path d="M672 325.5 L673.5 326.5 L672.5 329 L671.5 328.5Z" fill="#8c2d04"/>
<path d="M665 313.5 L669 312.5 L672 314 L673 317 L677 316.5 L681 316 L687.5 318 L687.5 334 L683 333 L680 333 L681 330 L679 327 L675 323 L671 322 L669 320 L670 317.5 L667 316Z" fill="#8c2d04"/>
<path d="M687.5 318 L692 320 L697 322 L700 326 L703 328 L702 330 L704 333 L708 337.5 L709 339 L705 338 L701 336 L698 334 L694 334 L691 335 L687.5 334.5Z" fill="#fec44f"/>
<path d="M705 326 L710 326.5 L714 323 L712 318.5 L715 321 L714 325 L711 327.5 L706 327Z" fill="#fec44f"/>
<path d="M719 325 L720 325.5 L722 329 L721 329.5Z" fill="#fec44f"/>
<path d="M724 330 L727 331 L730 333 L727 333Z" fill="#ffffd4"/>
<path d="M731 334 L734 336 L736 338 L733 337Z" fill="#ffffd4"/>
<path d="M620 368 L628 365 L636 362 L642 356 L648 350 L654 348 L659 350 L666 341 L672 343 L676 343 L674 350 L681 357 L686 352 L688 342 L690 340 L693 350 L696 360 L700 366 L704 374 L706 382 L704 388 L700 394 L694 402 L688 407 L680 411 L674 412 L668 410 L664 407 L662 400 L660 398 L658 399 L652 395 L644 395 L636 396 L628 398 L620 400 L615 401 L616 396 L618 388 L617 378 L619 370Z" fill="#fec44f"/>
<path d="M668 418 L676 418 L674 422 L669 424Z" fill="#fec44f"/>
<path d="M739 401 L742 406 L746 410 L742 414 L736 418 L733 419 L734 414 L738 410 L740 406Z" fill="#fee391"/>
<path d="M730 418 L724 422 L716 426 L708 430 L706 432 L710 432 L720 428 L728 423 L731 420Z" fill="#fee391"/>
<path d="M734 363 L736 364 L740 369 L738 370Z" fill="#ffffd4"/>
<path d="M743 349 L745 350 L745 354 L744 354Z" fill="#ffffd4"/>
<path d="M766 355 L769 355 L770 358 L767 359Z" fill="#ffffd4"/>
<path d="M367.4 178.1 L371.5 179.8 L374.8 181.8 L377.2 183.9 L376.8 187.2 L375.6 189.7 L376.4 193 L377.2 196.2M368.2 177.7 L374.8 177.7M375.6 172.4 L376.4 176.5 L374.8 179 L374.8 181.8M390.4 170 L390.4 171.5 L391.2 176.5 L388.8 179.8M388 179.8 L392.1 179 L397.8 181.4 L399.5 183.1 L394.5 184.7 L389.6 183.9 L388 181.4 L388 179.8M377.2 187.2 L382.2 187.2 L388 185.5 L389.6 183.9M382.2 188 L388 187.2 L394.5 185.5 L397 188 L392.9 190.5 L388 189.7 L383 188.8 L382.2 188M376.4 188 L382.2 188.4 L380.5 190.5 L377.2 190.5M407.7 170.7 L409.4 176.5 L407.7 181.4 L409.4 183.9M399.5 183.1 L404.4 182.2 L407.7 183.1M397 188 L401.1 185.5 L407.7 184.7 L411 188 L407.7 191.3 L401.1 192.1 L397 188M407.7 184.7 L417.6 184.7 L420.9 187.2 L423.4 191.3 L419.3 194.6 L411 194.6 L407.7 191.3M409.4 176.5 L417.6 176.5 L423.4 177.3M404.4 165.8 L415 165.8M403.3 168.3 L412.7 169.1M406.7 161.5 L415.5 161.5M389.6 193 L396.2 193 L399.5 195.4 L401.1 198.7M401.1 192.1 L403 197 L404 201M411 194.6 L412 199 L416 200.5M405 203 L412 203 L418 203.5M384.2 142.5 L389 145 L389 150 L385 155 L383 159.2M405.5 143 L409 136 L412.5 136.7M357 216 L358 229 L350 234 L344 240M381 214 L382 226M382 226 L386 236 L384 245M384 245 L372 261 L350 246 L344 240M350 246 L349 269 L338 270M372 261 L365 271 L360 275M349 269 L350 272 L360 275 L365 279M418 226.6 L419.4 240 L419.9 258.3M419.9 253.8 L445 253.3M384 245 L390 250 L396.5 251.5M370 276 L383 275.5 L390 276 L395 276M324 270 L332 268 L338 270M410.6 357.6 L409.4 368.2 L408.2 377.6M417.1 270.3 L419.9 270 L425 271 L430 275 L436.8 280.3M478.1 192.8 L488 193.5 L493.7 196.3 L499.3 197.7 L505 198.4 L510.7 201.3 L519.2 199.8 L522 201.3M505 205.5 L507.8 208.3 L512.1 206.9 L516.3 204.8M507.8 208.3 L519.2 208.3 L522 206.9M503.6 213.3 L510.7 212.6 L519.2 212.6 L522 214M496.5 217.5 L496.5 222.5 L497.9 228.2 L499.3 233.8M499.3 233.8 L505 232.4 L510.7 228.2 L516.3 222.5 L519.2 216.8 L522 214M499.3 233.8 L500.8 239.5 L502.2 245.2M455.4 205.5 L456.8 208.3 L458.3 214 L462.5 221.1 L466.8 228.2 L468.2 232.4M439.8 214 L448.3 213.3 L454 214 L458.3 214M452.6 214 L451.2 219.7 L448.3 225.3M441.3 221.1 L448.3 225.3M448.3 202.7 L456.8 204.1 L462.5 202.7M635 210 L640 209" fill="none"/>
</g>
<!-- legend -->
<g id="legend">
<rect x="118.5" y="501.5" width="48" height="11" fill="url(#hatch)" stroke="#c8c8c8" stroke-width="0.8"/>
<line x1="142.5" y1="497.5" x2="142.5" y2="501.5" stroke="#c8c8c8" stroke-width="0.8"/>
<g stroke="#b8b8b8" stroke-width="0.6">
<rect x="186" y="501.3" width="78" height="11.3" fill="#ffffd4"/>
<rect x="264" y="501.3" width="78" height="11.3" fill="#fee391"/>
<rect x="342" y="501.3" width="78" height="11.3" fill="#fec44f"/>
<rect x="420" y="501.3" width="78" height="11.3" fill="#fe9929"/>
<rect x="498" y="501.3" width="78" height="11.3" fill="#ec7014"/>
<rect x="576" y="501.3" width="78" height="11.3" fill="#cc4c02"/>
<path d="M654 501.3 H726 L731 506.95 L726 512.6 H654 Z" fill="#8c2d04"/>
</g>
<g stroke="#c8c8c8" stroke-width="0.8">
<line x1="186" y1="497.5" x2="186" y2="501.3"/>
<line x1="264" y1="497.5" x2="264" y2="501.3"/>
<line x1="342" y1="497.5" x2="342" y2="501.3"/>
<line x1="420" y1="497.5" x2="420" y2="501.3"/>
<line x1="498" y1="497.5" x2="498" y2="501.3"/>
<line x1="576" y1="497.5" x2="576" y2="501.3"/>
<line x1="654" y1="497.5" x2="654" y2="501.3"/>
</g>
<g font-family="Liberation Sans, sans-serif" font-size="13" fill="#5b5b5b" text-anchor="middle">
<text x="142.3" y="494.5">No data</text>
<text x="186" y="494.5">0 ha</text>
<text x="264" y="494.5">1,000 ha</text>
<text x="342" y="494.5">3,000 ha</text>
<text x="420" y="494.5">10,000 ha</text>
<text x="498" y="494.5">30,000 ha</text>
<text x="576" y="494.5">100,000 ha</text>
<text x="654" y="494.5">300,000 ha</text>
</g>
</g>
</svg>

<div class="t foot" style="left:16.5px;top:533px"><b>Data source:</b> Global Forest Watch (2025)</div>
<div class="t foot" style="right:20px;top:533px">OurWorldinData.org/forests-and-deforestation | CC BY</div>
<div class="t foot" style="left:16.5px;top:553px"><b>Note:</b> Improvements in the detection of tree cover loss due to the incorporation of new satellite data and methodology changes between 2011</div>
<div class="t foot" style="left:16.5px;top:568px">and 2015 may result in higher estimates of loss in recent years compared to earlier years.</div>
</body></html>
